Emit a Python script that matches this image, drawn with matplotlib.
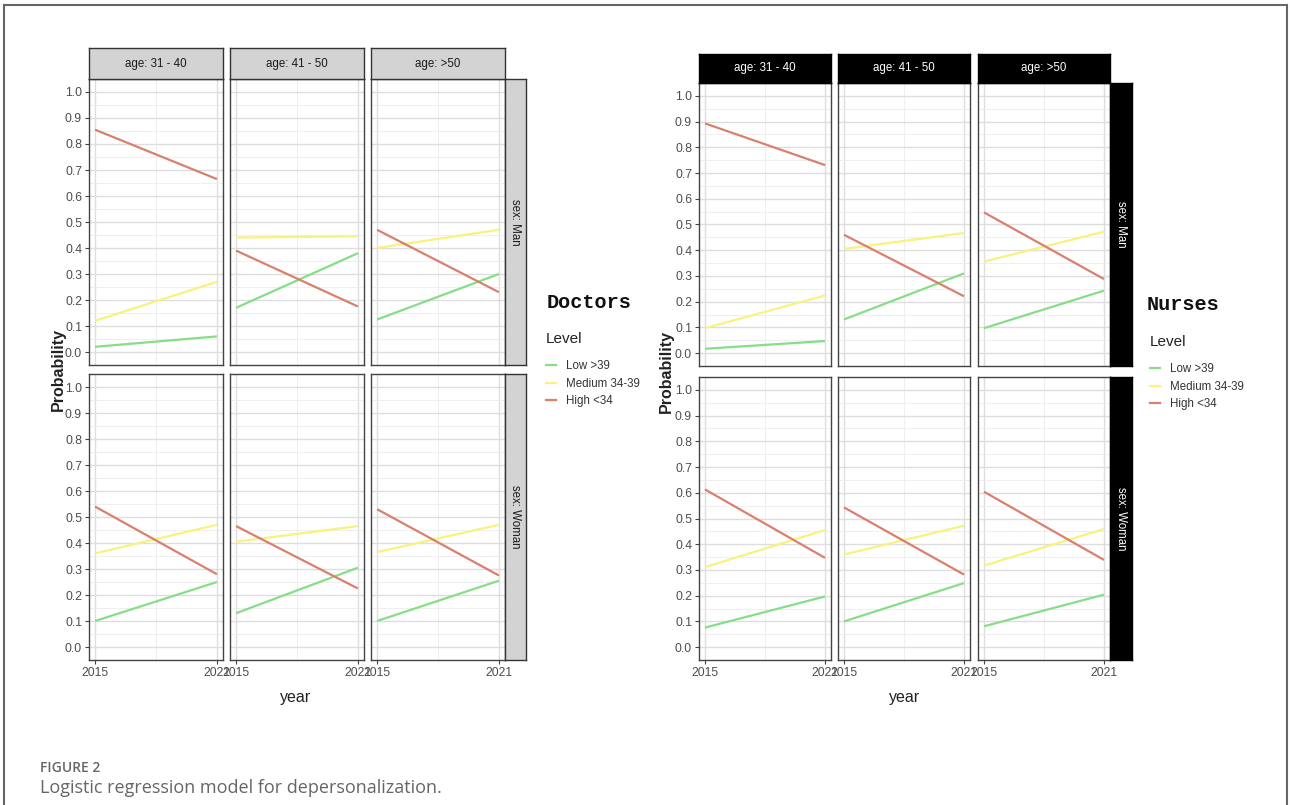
"""Faceted logistic regression curves: doctors vs nurses."""
import matplotlib
matplotlib.use("Agg")
import matplotlib.pyplot as plt
from matplotlib.lines import Line2D

plt.rcParams['font.family'] = ['Liberation Sans', 'DejaVu Sans']

W, H = 1290, 805

years = [2015, 2021]
levels = ["Low >39", "Medium 34-39", "High <34"]
level_colors = ["#86DE86", "#F8F27E", "#D9806F"]
ages = ["age: 31 - 40", "age: 41 - 50", "age: >50"]
sexes = ["sex: Man", "sex: Woman"]
y_ticks = [0.0, 0.1, 0.2, 0.3, 0.4, 0.5, 0.6, 0.7, 0.8, 0.9, 1.0]

# probability at 2015 and 2021, one pair per age panel
doc_man_low = [[0.02, 0.06], [0.17, 0.38], [0.125, 0.30]]
doc_man_med = [[0.12, 0.27], [0.44, 0.445], [0.40, 0.47]]
doc_man_high = [[0.855, 0.665], [0.39, 0.175], [0.47, 0.23]]
doc_woman_low = [[0.10, 0.25], [0.13, 0.305], [0.10, 0.255]]
doc_woman_med = [[0.36, 0.47], [0.405, 0.465], [0.365, 0.47]]
doc_woman_high = [[0.54, 0.28], [0.465, 0.225], [0.53, 0.275]]

nur_man_low = [[0.017, 0.047], [0.131, 0.31], [0.097, 0.243]]
nur_man_med = [[0.097, 0.224], [0.405, 0.467], [0.356, 0.472]]
nur_man_high = [[0.893, 0.731], [0.46, 0.221], [0.547, 0.288]]
nur_woman_low = [[0.076, 0.197], [0.10, 0.249], [0.081, 0.204]]
nur_woman_med = [[0.311, 0.455], [0.36, 0.472], [0.317, 0.459]]
nur_woman_high = [[0.613, 0.347], [0.543, 0.282], [0.604, 0.339]]


def px_axes(fig, x0, y0, x1, y1, **kw):
    """Add axes given pixel box (top-left origin)."""
    return fig.add_axes([x0 / W, 1 - y1 / H, (x1 - x0) / W, (y1 - y0) / H], **kw)


def strip(fig, box, text, dark, rotate=False):
    ax = px_axes(fig, *box)
    ax.set_xticks([])
    ax.set_yticks([])
    ax.set_facecolor("black" if dark else "#D3D3D3")
    for s in ax.spines.values():
        s.set_color("#333333" if not dark else "black")
        s.set_linewidth(1.0)
    ax.text(0.5, 0.5, text, transform=ax.transAxes, ha="center", va="center",
            fontsize=8.3, color="white" if dark else "#1A1A1A",
            rotation=-90 if rotate else 0)


def make_block(fig, rows, cols_x, pw, row_y, ph, strip_top, rstrip_x, dark,
               title, title_xy, legend_xy, ylab_x, year_xy):
    for r, sex in enumerate(sexes):
        for c, age in enumerate(ages):
            x0 = cols_x[c]
            y0 = row_y[r]
            ax = px_axes(fig, x0, y0, x0 + pw, y0 + ph)
            ax.set_xlim(2015 - 0.3, 2021 + 0.3)
            ax.set_ylim(-0.05, 1.05)
            ax.set_xticks(years)
            ax.set_xticks([2018], minor=True)
            ax.set_yticks(y_ticks)
            ax.set_yticks([v + 0.05 for v in y_ticks[:-1]], minor=True)
            ax.grid(which="major", color="#DEDEDE", lw=1.0)
            ax.grid(which="minor", color="#ECECEC", lw=0.6)
            ax.set_axisbelow(True)
            for s in ax.spines.values():
                s.set_color("#444444")
                s.set_linewidth(1.0)
            ax.tick_params(which="minor", length=0)
            ax.tick_params(which="major", length=3, width=0.8, color="#444444",
                           labelsize=8.8, labelcolor="#4D4D4D", pad=2)
            if c == 0:
                ax.set_yticklabels([f"{v:.1f}" for v in y_ticks])
            else:
                ax.tick_params(axis="y", length=0, labelleft=False)
            if r == 1:
                ax.set_xticklabels([str(y) for y in years])
            else:
                ax.tick_params(axis="x", length=0, labelbottom=False)
            for series, col in zip(rows[r], level_colors):
                ax.plot(years, series[c], color=col, lw=1.6, solid_capstyle="butt")
            if r == 0:
                strip(fig, (x0, strip_top, x0 + pw, row_y[0]), age, dark)
        strip(fig, (rstrip_x[0], row_y[r], rstrip_x[1], row_y[r] + ph), sex,
              dark, rotate=True)

    mid_y = (row_y[0] + row_y[1] + ph) / 2
    fig.text(ylab_x / W, 1 - mid_y / H, "Probability", rotation=90, ha="center",
             va="center", fontsize=11.5, fontweight="bold", color="#222222")
    fig.text(year_xy[0] / W, 1 - year_xy[1] / H, "year", ha="center", va="center",
             fontsize=11.5, color="#222222")
    fig.text(title_xy[0] / W, 1 - title_xy[1] / H, title, ha="left", va="center",
             fontsize=14.5, fontweight="bold", family="Liberation Mono",
             color="#111111")
    handles = [Line2D([], [], color=c, lw=1.6) for c in level_colors]
    leg = fig.legend(handles, levels, title="Level", loc="upper left",
                     bbox_to_anchor=(legend_xy[0] / W, 1 - legend_xy[1] / H),
                     frameon=False, fontsize=8.3, title_fontsize=11,
                     handlelength=0.9, handletextpad=0.8, labelspacing=0.5,
                     borderaxespad=0, borderpad=0, alignment="left")
    leg._legend_box.sep = 10
    leg.get_title().set_color("#222222")
    for t in leg.get_texts():
        t.set_color("#333333")


fig = plt.figure(figsize=(W / 100, H / 100), dpi=100)

doc_rows = [[doc_man_low, doc_man_med, doc_man_high],
            [doc_woman_low, doc_woman_med, doc_woman_high]]
nur_rows = [[nur_man_low, nur_man_med, nur_man_high],
            [nur_woman_low, nur_woman_med, nur_woman_high]]

make_block(fig, doc_rows, [89, 230, 371], 134, [79, 374], 286, 48, (505, 526),
           False, "Doctors", (547, 302), (546, 332), 58, (296, 697))
make_block(fig, nur_rows, [699, 838, 978], 132, [83, 377], 283, 54, (1110, 1132),
           True, "Nurses", (1147, 305), (1150, 335), 666, (905, 697))

# figure frame (left, top, right)
frame = dict(color="#666666", lw=1.5, transform=fig.transFigure)
fig.add_artist(Line2D([4 / W, 4 / W], [0, 1 - 5 / H], **frame))
fig.add_artist(Line2D([4 / W, 1287 / W], [1 - 5 / H, 1 - 5 / H], **frame))
fig.add_artist(Line2D([1287 / W, 1287 / W], [0, 1 - 5 / H], **frame))

fig.text(40 / W, 1 - 768 / H, "FIGURE 2", family="Open Sans", fontsize=10,
         fontweight="semibold", color="#666666", va="center", ha="left")
fig.text(40 / W, 1 - 788 / H, "Logistic regression model for depersonalization.",
         family="Open Sans", fontsize=13, color="#666666", va="center", ha="left")

fig.savefig("out.png", dpi=100)
plt.close(fig)
